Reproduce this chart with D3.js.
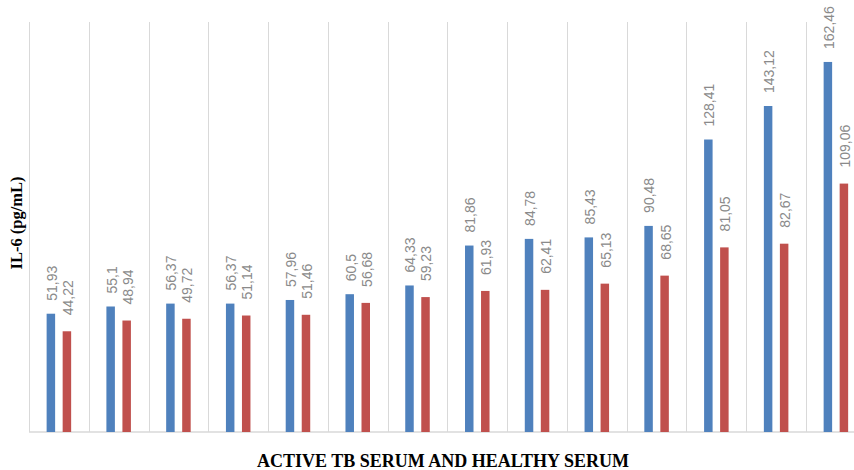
<!DOCTYPE html>
<html>
<head>
<meta charset="utf-8">
<script src="https://cdn.jsdelivr.net/npm/d3@7"></script>
<style>
  html, body { margin: 0; padding: 0; background: #fff; overflow: hidden; }
  svg { display: block; }
</style>
</head>
<body>
<svg id="chart" width="854" height="470"></svg>
<script>
// ---- data ----
const categories = ["1","2","3","4","5","6","7","8","9","10","11","12","13","14"];
const activeTB = [51.93, 55.1, 56.37, 56.37, 57.96, 60.5, 64.33, 81.86, 84.78, 85.43, 90.48, 128.41, 143.12, 162.46];
const healthy  = [44.22, 48.94, 49.72, 51.14, 51.46, 56.68, 59.23, 61.93, 62.41, 65.13, 68.65, 81.05, 82.67, 109.06];
const seriesNames = ["Active TB serum", "Healthy serum"];
const yDomain = [0, 180];
const xTitle = "ACTIVE TB SERUM AND HEALTHY SERUM";
const yTitle = "IL-6 (pg/mL)";

// ---- layout ----
const svg = d3.select("#chart");
const plotLeft = 29, catStep = 59.77, plotTop = 22, plotBottom = 432;
const x = d3.scaleBand().domain(categories).range([plotLeft, plotLeft + catStep * categories.length]).padding(0);
const xs = d3.scaleBand().domain(seriesNames).range([0, x.bandwidth()]).paddingInner(0.47).paddingOuter(1.1);
const y = d3.scaleLinear().domain(yDomain).range([plotBottom, plotTop]);
const colors = { [seriesNames[0]]: "#4f81bd", [seriesNames[1]]: "#c0504d" };
const labelGap = { [seriesNames[0]]: 13, [seriesNames[1]]: 16 };

// vertical category gridlines
const edges = categories.map(c => x(c)).concat([x(categories[categories.length - 1]) + x.bandwidth()]);
svg.append("g").selectAll("line")
  .data(edges)
  .join("line")
  .attr("x1", d => Math.round(d) + 0.5)
  .attr("x2", d => Math.round(d) + 0.5)
  .attr("y1", y(yDomain[1]))
  .attr("y2", y(0))
  .attr("stroke", "#d9d9d9")
  .attr("stroke-width", 1);

// baseline axis
svg.append("line")
  .attr("x1", plotLeft).attr("x2", 854)
  .attr("y1", y(0)).attr("y2", y(0))
  .attr("stroke", "#d9d9d9").attr("stroke-width", 1.5);

const rows = categories.map((c, i) => ({
  cat: c,
  vals: [
    { s: seriesNames[0], v: activeTB[i] },
    { s: seriesNames[1], v: healthy[i] }
  ]
}));

const groups = svg.append("g").selectAll("g")
  .data(rows).join("g")
  .attr("transform", d => `translate(${x(d.cat)},0)`);

groups.selectAll("rect")
  .data(d => d.vals).join("rect")
  .attr("x", d => xs(d.s))
  .attr("width", xs.bandwidth())
  .attr("y", d => y(d.v))
  .attr("height", d => y(0) - y(d.v))
  .attr("fill", d => colors[d.s]);

const fmt = v => String(v).replace(".", ",");

groups.selectAll("text")
  .data(d => d.vals).join("text")
  .attr("transform", d => `translate(${xs(d.s) + xs.bandwidth() / 2 + 1},${y(d.v) - labelGap[d.s]}) rotate(-90)`)
  .attr("dy", "0.35em")
  .attr("text-anchor", "start")
  .attr("font-family", "Liberation Sans, Arial, sans-serif")
  .attr("font-size", 14)
  .attr("fill", "#8a8a8a")
  .text(d => fmt(d.v));

// axis titles
svg.append("text")
  .attr("x", 443).attr("y", 467)
  .attr("text-anchor", "middle")
  .attr("font-family", "Liberation Serif, Times New Roman, serif")
  .attr("font-weight", "bold")
  .attr("font-size", 18)
  .attr("fill", "#000")
  .text(xTitle);

svg.append("text")
  .attr("transform", "translate(22,223) rotate(-90)")
  .attr("text-anchor", "middle")
  .attr("font-family", "Liberation Serif, Times New Roman, serif")
  .attr("font-weight", "bold")
  .attr("font-size", 16.5)
  .attr("fill", "#000")
  .text(yTitle);
</script>
</body>
</html>
